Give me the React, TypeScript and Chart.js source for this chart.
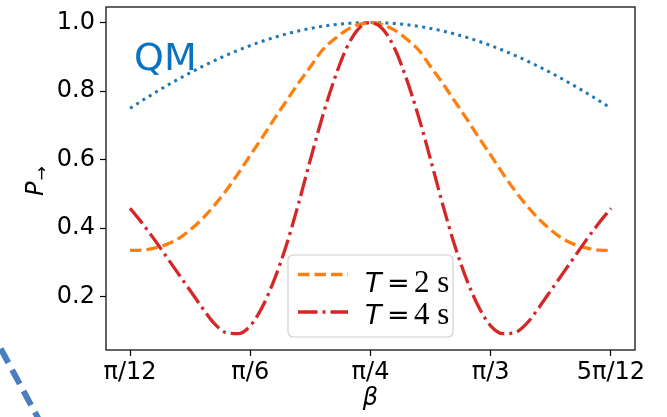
import React, { useEffect, useRef } from "react";
import { Chart, registerables } from "chart.js";

Chart.register(...registerables);

// beta in units of pi/12
const betaSteps = [
  1.0, 1.1, 1.2, 1.3, 1.4, 1.5, 1.6, 1.7, 1.8, 1.9,
  2.0, 2.1, 2.2, 2.3, 2.4, 2.5, 2.6, 2.7, 2.8, 2.9,
  3.0, 3.1, 3.2, 3.3, 3.4, 3.5, 3.6, 3.7, 3.8, 3.9,
  4.0, 4.1, 4.2, 4.3, 4.4, 4.5, 4.6, 4.7, 4.8, 4.9, 5.0,
];
const xTickValues = [1, 2, 3, 4, 5];
const xTickLabels = ["π/12", "π/6", "π/4", "π/3", "5π/12"];
const yTickValues = [0.2, 0.4, 0.6, 0.8, 1.0];
const seriesLabels = ["QM", "T = 2 s", "T = 4 s"];

const qmValues = [
  0.75, 0.7723, 0.7939, 0.8147, 0.8346, 0.8536, 0.8716, 0.8886, 0.9045, 0.9193,
  0.933, 0.9455, 0.9568, 0.9668, 0.9755, 0.983, 0.9891, 0.9938, 0.9973, 0.9993,
  1.0,
  0.9993, 0.9973, 0.9938, 0.9891, 0.983, 0.9755, 0.9668, 0.9568, 0.9455, 0.933,
  0.9193, 0.9045, 0.8886, 0.8716, 0.8536, 0.8346, 0.8147, 0.7939, 0.7723, 0.75,
];
const t2Values = [
  0.335, 0.336, 0.342, 0.352, 0.369, 0.395, 0.427, 0.466, 0.51, 0.56,
  0.613, 0.665, 0.719, 0.771, 0.823, 0.871, 0.92, 0.952, 0.978, 0.994,
  1.0,
  0.994, 0.978, 0.952, 0.92, 0.871, 0.823, 0.771, 0.719, 0.665, 0.613,
  0.56, 0.51, 0.466, 0.427, 0.395, 0.369, 0.352, 0.342, 0.336, 0.335,
];
const t4Values = [
  0.458, 0.415, 0.368, 0.318, 0.268, 0.218, 0.168, 0.122, 0.095, 0.092,
  0.115, 0.17, 0.25, 0.35, 0.47, 0.6, 0.725, 0.835, 0.925, 0.982,
  1.0,
  0.982, 0.925, 0.835, 0.725, 0.6, 0.47, 0.35, 0.25, 0.17, 0.115,
  0.092, 0.095, 0.122, 0.168, 0.218, 0.268, 0.318, 0.368, 0.415, 0.458,
];
// stray dashed stroke from a neighbouring panel (bottom-left corner)
const strayX = [-0.17, 0.29];
const strayY = [0.11, -0.19];

// annotation anchor (data units)
const qmLabelAt = { x: 1.05, y: 0.861 };

const decorPlugin = {
  id: "decor",
  afterDatasetsDraw(chart: any) {
    const { ctx, chartArea: a, scales } = chart;
    ctx.save();
    // QM label
    ctx.fillStyle = "#0b72bf";
    ctx.font = "38px 'DejaVu Sans'";
    ctx.textAlign = "left";
    ctx.textBaseline = "alphabetic";
    ctx.fillText(
      seriesLabels[0],
      scales.x.getPixelForValue(qmLabelAt.x) - 2,
      scales.y.getPixelForValue(qmLabelAt.y)
    );
    // frame
    ctx.strokeStyle = "#111";
    ctx.lineWidth = 1.3;
    ctx.strokeRect(a.left, a.top, a.right - a.left, a.bottom - a.top);
    // y title P with subscript arrow
    ctx.fillStyle = "#000";
    ctx.translate(43, (a.top + a.bottom) / 2 + 2);
    ctx.rotate(-Math.PI / 2);
    ctx.font = "italic 24px 'DejaVu Sans'";
    ctx.textAlign = "right";
    ctx.fillText("P", -1, 0);
    ctx.font = "17px 'DejaVu Sans'";
    ctx.textAlign = "left";
    ctx.fillText("→", 0, 3.5);
    ctx.restore();
  },
  afterDraw(chart: any) {
    const { ctx, chartArea: a } = chart;
    ctx.save();
    const bx = a.left + 182;
    const by = a.top + 248;
    const bw = 165;
    const bh = 82;
    ctx.beginPath();
    (ctx as any).roundRect(bx, by, bw, bh, 5);
    ctx.fillStyle = "rgba(255,255,255,0.8)";
    ctx.fill();
    ctx.strokeStyle = "#d0d0d0";
    ctx.lineWidth = 1.2;
    ctx.stroke();
    const items = [1, 2];
    items.forEach((di, i) => {
      const ds = chart.data.datasets[di];
      const ly = by + 19.5 + i * 37.5;
      ctx.beginPath();
      ctx.setLineDash(ds.borderDash || []);
      ctx.strokeStyle = ds.borderColor;
      ctx.lineWidth = ds.borderWidth;
      ctx.moveTo(bx + 10, ly);
      ctx.lineTo(bx + 60, ly);
      ctx.stroke();
      ctx.setLineDash([]);
      const parts = String(ds.label).split(" ");
      const base = ly + 17.5 - (i === 0 ? 0 : 6);
      ctx.fillStyle = "#000";
      ctx.textBaseline = "alphabetic";
      ctx.textAlign = "left";
      ctx.font = "italic 27px 'DejaVu Sans'";
      ctx.fillText(parts[0], bx + 77, base);
      ctx.font = "27px 'DejaVu Sans'";
      ctx.fillText(parts[1], bx + 99, base);
      ctx.font = "31px 'Liberation Serif'";
      ctx.fillText(parts.slice(2).join(" "), bx + 126, base);
    });
    ctx.restore();
  },
};

export default function App() {
  const ref = useRef<HTMLCanvasElement | null>(null);
  useEffect(() => {
    document.body.style.margin = "0";
    const canvas = ref.current!;
    const mk = (ys: number[]) => betaSteps.map((x, i) => ({ x, y: ys[i] }));
    const chart = new Chart(canvas, {
      type: "line",
      data: {
        datasets: [
          {
            label: seriesLabels[0],
            data: mk(qmValues),
            borderColor: "#1f77b4",
            borderWidth: 3,
            borderDash: [3, 4.4],
            pointRadius: 0,
            fill: false,
            cubicInterpolationMode: "monotone",
            order: 3,
          },
          {
            label: seriesLabels[1],
            data: mk(t2Values),
            borderColor: "#ff7f0e",
            borderWidth: 3.3,
            borderDash: [11.5, 5],
            pointRadius: 0,
            fill: false,
            cubicInterpolationMode: "monotone",
            order: 2,
          },
          {
            label: seriesLabels[2],
            data: mk(t4Values),
            borderColor: "#d62728",
            borderWidth: 3.3,
            borderDash: [19.5, 5, 3, 5],
            pointRadius: 0,
            fill: false,
            cubicInterpolationMode: "monotone",
            order: 1,
          },
          {
            label: "",
            data: strayX.map((x, i) => ({ x, y: strayY[i] })),
            borderColor: "#4a7ec0",
            borderWidth: 6,
            borderDash: [16, 8],
            pointRadius: 0,
            fill: false,
            clip: false as any,
            order: 4,
          },
        ],
      },
      options: {
        animation: false,
        responsive: false,
        devicePixelRatio: 1,
        layout: { padding: { left: 0, right: 32, top: 7, bottom: 0 } },
        plugins: { legend: { display: false }, tooltip: { enabled: false } },
        scales: {
          x: {
            type: "linear",
            min: 0.8,
            max: 5.2,
            afterBuildTicks: (s: any) => {
              s.ticks = xTickValues.map((v) => ({ value: v }));
            },
            afterFit: (s: any) => {
              s.height = 67;
              s.paddingLeft = 0;
              s.paddingRight = 0;
            },
            ticks: {
              autoSkip: false,
              maxRotation: 0,
              padding: 2,
              color: "#000",
              font: { family: "'DejaVu Sans'", size: 24 },
              callback: (v: any) => {
                const i = xTickValues.indexOf(Number(v));
                return i >= 0 ? xTickLabels[i] : "";
              },
            },
            grid: {
              display: true,
              drawOnChartArea: false,
              drawTicks: true,
              tickLength: 6,
              tickColor: "#000",
              tickWidth: 1.2,
            },
            border: { display: false },
            title: {
              display: true,
              text: "β",
              color: "#000",
              font: { family: "'DejaVu Sans'", size: 24, style: "italic" },
              padding: { top: 0, bottom: 4 },
            },
          },
          y: {
            type: "linear",
            min: 0.0445,
            max: 1.0455,
            afterBuildTicks: (s: any) => {
              s.ticks = yTickValues.map((v) => ({ value: v }));
            },
            afterFit: (s: any) => {
              s.width = 106;
              s.paddingTop = 0;
              s.paddingBottom = 0;
            },
            ticks: {
              padding: 5,
              color: "#000",
              font: { family: "'DejaVu Sans'", size: 24 },
              callback: (v: any) => Number(v).toFixed(1),
            },
            grid: {
              display: true,
              drawOnChartArea: false,
              drawTicks: true,
              tickLength: 6,
              tickColor: "#000",
              tickWidth: 1.2,
            },
            border: { display: false },
          },
        },
      },
      plugins: [decorPlugin],
    } as any);
    return () => chart.destroy();
  }, []);
  return (
    <div style={{ width: 667, height: 417 }}>
      <canvas ref={ref} width={667} height={417} style={{ display: "block" }} />
    </div>
  );
}
